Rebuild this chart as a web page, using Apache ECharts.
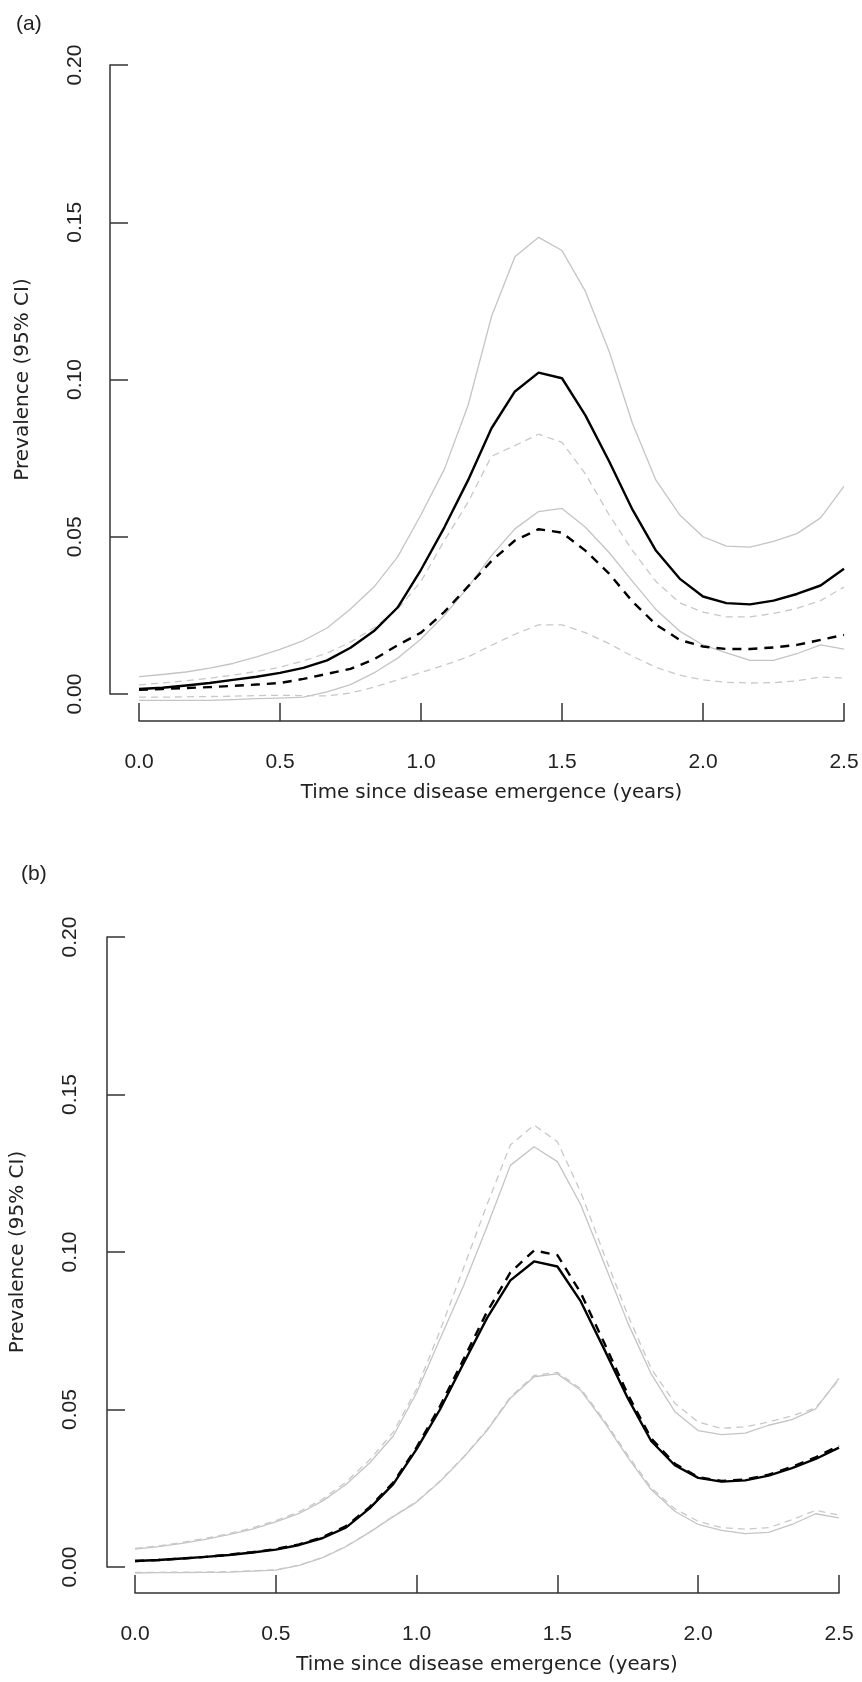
<!DOCTYPE html>
<html>
<head>
<meta charset="utf-8">
<script src="https://cdn.jsdelivr.net/npm/echarts@6/dist/echarts.min.js"></script>
<style>
  html, body { margin: 0; padding: 0; background: #fff; }
  #chart { width: 862px; height: 1682px; }
</style>
</head>
<body>
<div id="chart"></div>
<script>
// time since emergence (years), monthly steps
const years = [0, 0.083, 0.167, 0.25, 0.333, 0.417, 0.5, 0.583, 0.667, 0.75, 0.833, 0.917,
  1.0, 1.083, 1.167, 1.25, 1.333, 1.417, 1.5, 1.583, 1.667, 1.75, 1.833, 1.917,
  2.0, 2.083, 2.167, 2.25, 2.333, 2.417, 2.5]

// panel (a)
const aMean = [0.0016, 0.002, 0.0027, 0.0035, 0.0045, 0.0055, 0.0067, 0.0083, 0.0107, 0.0147, 0.0200, 0.0275,
  0.0395, 0.0530, 0.0680, 0.0845, 0.0962, 0.1022, 0.1004, 0.0886, 0.0740, 0.0586, 0.0456, 0.0367,
  0.0310, 0.0289, 0.0285, 0.0297, 0.0318, 0.0345, 0.0398]
const aMeanLo = [-0.002, -0.002, -0.002, -0.002, -0.0018, -0.0015, -0.0013, -0.001, 0.0007, 0.003, 0.0067, 0.0114,
  0.0175, 0.0250, 0.0340, 0.0440, 0.0525, 0.0580, 0.0590, 0.0530, 0.0450, 0.0358, 0.0269, 0.0200,
  0.0156, 0.0131, 0.0107, 0.0107, 0.0128, 0.0156, 0.0143]
const aMeanHi = [0.0055, 0.0062, 0.0070, 0.0082, 0.0097, 0.0118, 0.0142, 0.0170, 0.0210, 0.0270, 0.0340, 0.0436,
  0.0570, 0.0715, 0.0918, 0.1200, 0.1390, 0.1452, 0.1410, 0.1280, 0.1090, 0.0860, 0.0680, 0.0570,
  0.0500, 0.0470, 0.0467, 0.0485, 0.0510, 0.0560, 0.0660]
const aAlt = [0.0013, 0.0016, 0.0019, 0.0022, 0.0026, 0.0030, 0.0035, 0.0048, 0.0064, 0.0080, 0.0110, 0.0155,
  0.0195, 0.0261, 0.0342, 0.0423, 0.0488, 0.0524, 0.0513, 0.0456, 0.0383, 0.0294, 0.0221, 0.0172,
  0.0151, 0.0143, 0.0143, 0.0148, 0.0156, 0.0172, 0.0188]
const aAltLo = [-0.001, -0.001, -0.0009, -0.0008, -0.0007, -0.0005, -0.0004, -0.0005, -0.0006, 0.0003, 0.0022, 0.0045,
  0.0068, 0.0092, 0.0118, 0.0155, 0.0190, 0.0220, 0.0220, 0.0195, 0.0160, 0.0120, 0.0085, 0.0060,
  0.0045, 0.0037, 0.0035, 0.0036, 0.0042, 0.0054, 0.0051]
const aAltHi = [0.0029, 0.0035, 0.0042, 0.0050, 0.0060, 0.0072, 0.0085, 0.0105, 0.0130, 0.0165, 0.0210, 0.0270,
  0.0358, 0.0488, 0.0610, 0.0756, 0.0790, 0.0826, 0.0800, 0.0700, 0.0570, 0.0456, 0.0358, 0.0290,
  0.0260, 0.0245, 0.0245, 0.0256, 0.0272, 0.0297, 0.0340]

// panel (b)
const bMean = [0.0019, 0.0022, 0.0027, 0.0032, 0.0038, 0.0046, 0.0055, 0.0070, 0.0092, 0.0126, 0.0186, 0.0263,
  0.0374, 0.0500, 0.0647, 0.0790, 0.0910, 0.0970, 0.0954, 0.0843, 0.0690, 0.0536, 0.0400, 0.0323,
  0.0283, 0.0271, 0.0275, 0.0290, 0.0314, 0.0343, 0.0379]
const bMeanLo = [-0.0019, -0.0018, -0.0018, -0.0017, -0.0016, -0.0013, -0.001, 0.0005, 0.0030, 0.0065, 0.0110, 0.0160,
  0.0206, 0.0271, 0.0348, 0.0433, 0.0536, 0.0604, 0.0613, 0.0561, 0.0459, 0.0348, 0.0246, 0.0177,
  0.0135, 0.0116, 0.0106, 0.0110, 0.0135, 0.0169, 0.0156]
const bMeanHi = [0.0057, 0.0065, 0.0075, 0.0088, 0.0103, 0.0120, 0.0143, 0.0170, 0.0210, 0.0263, 0.0330, 0.0416,
  0.0553, 0.0724, 0.0894, 0.1080, 0.1275, 0.1334, 0.1287, 0.1150, 0.0962, 0.0775, 0.0613, 0.0493,
  0.0433, 0.0420, 0.0425, 0.0450, 0.0468, 0.0502, 0.0599]
const bAlt = [0.0019, 0.0022, 0.0027, 0.0032, 0.0039, 0.0047, 0.0057, 0.0072, 0.0095, 0.0130, 0.0190, 0.0268,
  0.0380, 0.0510, 0.0660, 0.0810, 0.0935, 0.1005, 0.0990, 0.0870, 0.0710, 0.0548, 0.0408, 0.0328,
  0.0285, 0.0273, 0.0278, 0.0293, 0.0318, 0.0348, 0.0385]
const bAltLo = [-0.0017, -0.0017, -0.0016, -0.0016, -0.0015, -0.0012, -0.0009, 0.0006, 0.0031, 0.0066, 0.0111, 0.0161,
  0.0208, 0.0273, 0.0350, 0.0436, 0.0540, 0.0608, 0.0618, 0.0566, 0.0465, 0.0355, 0.0252, 0.0185,
  0.0145, 0.0125, 0.0120, 0.0125, 0.0150, 0.0180, 0.0165]
const bAltHi = [0.0059, 0.0067, 0.0078, 0.0091, 0.0106, 0.0124, 0.0147, 0.0175, 0.0216, 0.0270, 0.0340, 0.0428,
  0.0565, 0.0750, 0.0950, 0.1150, 0.1340, 0.1403, 0.1350, 0.1190, 0.0990, 0.0800, 0.0630, 0.0520,
  0.0460, 0.0440, 0.0445, 0.0460, 0.0480, 0.0505, 0.0595]

const yTicks = ['0.00', '0.05', '0.10', '0.15', '0.20']
const xTicks = ['0.0', '0.5', '1.0', '1.5', '2.0', '2.5']

const tickFont = "'Liberation Sans', Arial, sans-serif"
const titleFont = "'DejaVu Sans', Verdana, sans-serif"
const axisColor = '#333'
const textColor = '#222'

function pairs(values) {
  return years.map((t, i) => [t, values[i]])
}

function line(name, values, gi, kind) {
  const styles = {
    mean: { color: '#000', width: 2.4, type: 'solid' },
    alt: { color: '#000', width: 2.4, type: [9, 7] },
    ci: { color: '#c4c4c4', width: 1.3, type: 'solid' },
    altCi: { color: '#c8c8c8', width: 1.3, type: [7, 5] }
  }
  const s = styles[kind]
  return {
    name: name,
    type: 'line',
    xAxisIndex: gi,
    yAxisIndex: gi,
    data: pairs(values),
    showSymbol: false,
    clip: false,
    silent: true,
    z: kind === 'mean' || kind === 'alt' ? 3 : 2,
    lineStyle: { color: s.color, width: s.width, type: s.type, cap: 'butt', join: 'round' }
  }
}

function xAxis(gi, offset) {
  return {
    type: 'value',
    gridIndex: gi,
    min: 0,
    max: 2.5,
    interval: 0.5,
    offset: offset,
    name: 'Time since disease emergence (years)',
    nameLocation: 'middle',
    nameGap: 62,
    nameMoveOverlap: false,
    nameTextStyle: { fontFamily: titleFont, fontSize: 19.8, color: textColor, lineHeight: 20 },
    axisLine: { show: true, onZero: false, lineStyle: { color: axisColor, width: 1.5 } },
    axisTick: { show: true, inside: true, length: 18, lineStyle: { color: axisColor, width: 1.5 } },
    axisLabel: {
      margin: 31,
      fontFamily: tickFont,
      fontSize: 21,
      lineHeight: 21,
      color: textColor,
      formatter: v => xTicks[Math.round(v / 0.5)]
    },
    splitLine: { show: false }
  }
}

function yAxis(gi, offset, labelMargin, nameGap) {
  return {
    type: 'value',
    gridIndex: gi,
    min: 0,
    max: 0.2,
    interval: 0.05,
    offset: offset,
    name: 'Prevalence (95% CI)',
    nameLocation: 'middle',
    nameGap: nameGap,
    nameMoveOverlap: false,
    nameTextStyle: { fontFamily: titleFont, fontSize: 20, color: textColor, lineHeight: 20 },
    axisLine: { show: true, onZero: false, lineStyle: { color: axisColor, width: 1.5 } },
    axisTick: { show: true, inside: true, length: 18, lineStyle: { color: axisColor, width: 1.5 } },
    axisLabel: {
      rotate: 90,
      align: 'center',
      verticalAlign: 'bottom',
      alignMinLabel: 'center',
      alignMaxLabel: 'center',
      margin: labelMargin,
      fontFamily: tickFont,
      fontSize: 21,
      lineHeight: 21,
      color: textColor,
      formatter: v => yTicks[Math.round(v / 0.05)]
    },
    splitLine: { show: false }
  }
}

const chart = echarts.init(document.getElementById('chart'), null, { renderer: 'canvas' })

chart.setOption({
  backgroundColor: '#fff',
  animation: false,
  title: [
    { text: '(a)', left: 11, top: 9, textStyle: { fontFamily: tickFont, fontSize: 21, fontWeight: 'normal', color: textColor } },
    { text: '(b)', left: 16, top: 859, textStyle: { fontFamily: tickFont, fontSize: 21, fontWeight: 'normal', color: textColor } }
  ],
  grid: [
    { left: 139, top: 65, width: 705, height: 629 },
    { left: 134, top: 937, width: 705, height: 630 }
  ],
  xAxis: [xAxis(0, 27), xAxis(1, 26)],
  yAxis: [yAxis(0, 29, 24, 77), yAxis(1, 28, 26, 79)],
  series: [
    line('a mean upper', aMeanHi, 0, 'ci'),
    line('a mean lower', aMeanLo, 0, 'ci'),
    line('a alt upper', aAltHi, 0, 'altCi'),
    line('a alt lower', aAltLo, 0, 'altCi'),
    line('a alt', aAlt, 0, 'alt'),
    line('a mean', aMean, 0, 'mean'),
    line('b mean upper', bMeanHi, 1, 'ci'),
    line('b mean lower', bMeanLo, 1, 'ci'),
    line('b alt upper', bAltHi, 1, 'altCi'),
    line('b alt lower', bAltLo, 1, 'altCi'),
    line('b alt', bAlt, 1, 'alt'),
    line('b mean', bMean, 1, 'mean')
  ]
})

window.addEventListener('resize', () => chart.resize())
</script>
</body>
</html>
